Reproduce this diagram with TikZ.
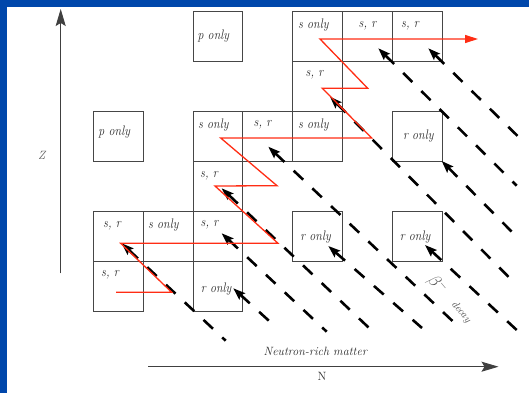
\documentclass[tikz,border=0pt]{standalone}
\usetikzlibrary{arrows.meta}
\definecolor{bord}{RGB}{0,71,171}
\definecolor{redp}{RGB}{255,45,20}
\definecolor{boxc}{RGB}{70,70,70}
\definecolor{txtc}{RGB}{45,45,45}
\begin{document}
\begin{tikzpicture}[x=1pt,y=-1pt,
  cell/.style={draw=boxc, line width=1.1pt, fill=white, minimum width=49.8pt, minimum height=49.9pt, inner sep=0pt},
  lab/.style={font=\fontsize{12}{12}\selectfont\itshape, text=txtc, inner sep=0pt, yscale=1.15},
  betaline/.style={line width=2.6pt, dash pattern=on 13pt off 12.7pt, {Stealth[length=12pt,width=8.5pt,inset=2pt]}-},
  rpath/.style={draw=redp, line width=1.3pt},
  axis/.style={draw=black!75, line width=0.9pt, -{Stealth[length=17pt,width=10pt,inset=3pt]}}
]
\useasboundingbox (0,0) rectangle (529,393);
\fill[white] (0,0) rectangle (529,393);
\fill[bord] (0,0) rectangle (6.7,393);
\fill[bord] (0,0) rectangle (529,6.7);

% boxes
\node[cell] (b02) at (218.0,36.65) {};
\node[cell] (b04) at (317.6,36.65) {};
\node[cell] (b05) at (367.4,36.65) {};
\node[cell] (b06) at (417.2,36.65) {};
\node[cell] (b14) at (317.6,86.55) {};
\node[cell] (b20) at (118.4,136.45) {};
\node[cell] (b22) at (218.0,136.45) {};
\node[cell] (b23) at (267.8,136.45) {};
\node[cell] (b24) at (317.6,136.45) {};
\node[cell] (b26) at (417.2,136.45) {};
\node[cell] (b32) at (218.0,186.35) {};
\node[cell] (b40) at (118.4,236.25) {};
\node[cell] (b41) at (168.2,236.25) {};
\node[cell] (b42) at (218.0,236.25) {};
\node[cell] (b44) at (317.6,236.25) {};
\node[cell] (b46) at (417.2,236.25) {};
\node[cell] (b50) at (118.4,286.15) {};
\node[cell] (b52) at (218.0,286.15) {};

% labels
\node[lab] (t02) at (213.3,36.5) {p only};
\node[lab] (t04) at (313.3,25) {s only};
\node[lab] (t05) at (367.5,25.5) {s, r};
\node[lab] (t06) at (410,25.5) {s, r};
\node[lab] (t14) at (314.5,75) {s, r};
\node[lab] (t20) at (114.2,132.5) {p only};
\node[lab] (t22) at (213.3,125) {s only};
\node[lab] (t23) at (262.5,125) {s, r};
\node[lab] (t24) at (313.3,125) {s only};
\node[lab] (t26) at (418.3,136.5) {r only};
\node[lab] (t32) at (209,176) {s, r};
\node[lab] (t40) at (112,226) {s, r};
\node[lab] (t41) at (163.3,225) {s only};
\node[lab] (t42) at (209.5,224.5) {s, r};
\node[lab] (t44) at (315.5,237.5) {r only};
\node[lab] (t46) at (415,237.5) {r only};
\node[lab] (t50) at (110,275) {s, r};
\node[lab] (t52) at (216.2,289) {r only};

% beta-decay lines
\coordinate (a1s) at (121.7,243.3); \coordinate (a1e) at (225.7,340.7);
\coordinate (a2s) at (221.7,188.3); \coordinate (a2e) at (373,331.7);
\coordinate (a3s) at (221.7,233.3); \coordinate (a3e) at (326.7,331.7);
\coordinate (a4s) at (233.3,288.3); \coordinate (a4e) at (271.7,323.3);
\coordinate (a5s) at (268.3,146.7); \coordinate (a5e) at (456.7,325);
\coordinate (a6s) at (330,96.7);    \coordinate (a6e) at (513.3,281.7);
\coordinate (a7s) at (378.3,48.3);  \coordinate (a7e) at (516.7,185.7);
\coordinate (a8s) at (428.3,48.3);  \coordinate (a8e) at (521.7,140);
\coordinate (a9s) at (328.3,246);   \coordinate (a9e) at (422,328);
\coordinate (a10s) at (425,245);    \coordinate (a10e) at (516.7,330);
\coordinate (a11s) at (441.7,161);  \coordinate (a11e) at (515,235);
\foreach \i in {1,...,11} {\draw[betaline] (a\i s) -- (a\i e);}

% red path
\coordinate (r0) at (116,292.3);
\coordinate (r1) at (171.7,292.3);
\coordinate (r2) at (120.7,243.3);
\coordinate (r3) at (278,243.3);
\coordinate (r4) at (215,186);
\coordinate (r5) at (277,185.7);
\coordinate (r6) at (220.7,138);
\coordinate (r7) at (371.7,138);
\coordinate (r8) at (322.3,88.3);
\coordinate (r9) at (367.7,88.3);
\coordinate (r10) at (320,39);
\coordinate (r11) at (478,39);
\draw[rpath, line join=miter, -{Triangle[length=13pt,width=8pt]}] (r0) -- (r1) -- (r2) -- (r3) -- (r4) -- (r5) -- (r6) -- (r7) -- (r8) -- (r9) -- (r10) -- (r11);

% beta label
\node[text=black!70, rotate=-50, inner sep=0pt] (bsym) at (437,285) {\fontsize{16}{16}\selectfont$\beta^{-}$};
\node[text=black!70, rotate=-50, inner sep=0pt] (bdec) at (461,312) {\fontsize{10.5}{10.5}\selectfont\itshape decay};

% axes
\coordinate (zb) at (60.7,273.3); \coordinate (zt) at (60.7,9);
\coordinate (nl) at (148.4,366.7); \coordinate (nr) at (498.5,366.7);
\draw[axis] (zb) -- (zt);
\draw[axis] (nl) -- (nr);
\node[text=black!65, inner sep=0pt, font=\fontsize{12}{12}\selectfont\itshape] (zlab) at (41.7,155) {Z};
\node[text=txtc, inner sep=0pt, font=\fontsize{12}{12}\selectfont\itshape] (nrm) at (315.3,351.7) {Neutron-rich matter};
\node[text=txtc, inner sep=0pt, font=\fontsize{12}{12}\selectfont] (nlab) at (322,376.7) {N};
\end{tikzpicture}
\end{document}
